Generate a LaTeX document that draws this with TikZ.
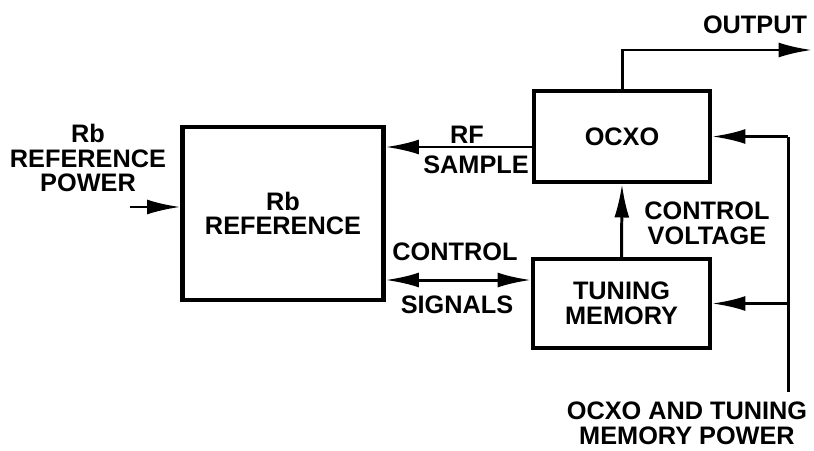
\documentclass[tikz,border=0pt]{standalone}
\usepackage{fontspec}
\setmainfont{Liberation Sans}
\usetikzlibrary{arrows.meta,positioning,calc}

\tikzset{
  block/.style={draw,line width=2.4pt,align=center,inner sep=0pt},
  conn/.style={line width=1.7pt},
  lbl/.style={align=center,inner sep=0pt}
}

\begin{document}
\begin{tikzpicture}[x=0.02cm,y=-0.02cm,>={Latex[length=19pt,width=8.5pt]},
  font=\fontsize{14.4}{14}\selectfont\bfseries,line cap=butt]
\useasboundingbox (0,0) rectangle (814,450);
% ---------- blocks ----------
\node[block,minimum width=4.02cm,minimum height=3.46cm] (rb) at (283,213.5){Rb\\REFERENCE};
\node[block,minimum width=3.52cm,minimum height=1.82cm] (ocxo) at (622,136.5){OCXO};
\node[block,minimum width=3.54cm,minimum height=1.78cm] (tune) at (621.5,303.5){TUNING\\MEMORY};
% ---------- free ends ----------
\coordinate (rbin) at (130,207);
\coordinate (out) at (812,50);
\coordinate (pwr) at (788,392);
\coordinate (rfin) at ([yshift=-0.21cm]ocxo.west);
\coordinate (cs) at ([yshift=0.47cm]tune.west);
% ---------- connectors ----------
\draw[conn,->] (rbin) -- (rbin -| rb.west);
\draw[conn,->] (rfin) -- (rfin -| rb.east);
\draw[conn,<->] (cs -| rb.east) -- (cs);
\draw[conn,->] (tune.north) -- (ocxo.south);
\draw[conn,->] (ocxo.north) |- (out);
\draw[conn] (pwr) -- (pwr |- ocxo.east);
\draw[conn,->] (pwr |- ocxo.east) -- (ocxo.east);
\draw[conn,->] (pwr |- tune.east) -- (tune.east);
% ---------- labels ----------
\node[lbl] (lrbp) at (88,158){Rb\\REFERENCE\\POWER};
\node[lbl] (lrf) at (467,135){RF};
\node[lbl] (lsam) at (476,165){SAMPLE};
\node[lbl] (lcv) at (707,223){CONTROL\\VOLTAGE};
\node[lbl] (lcon) at (455,252){CONTROL};
\node[lbl] (lsig) at (457,305){SIGNALS};
\node[lbl] (lout) at (755,25){OUTPUT};
\node[lbl] (lpwr) at (687,423){OCXO AND TUNING\\MEMORY POWER};
\end{tikzpicture}
\end{document}
